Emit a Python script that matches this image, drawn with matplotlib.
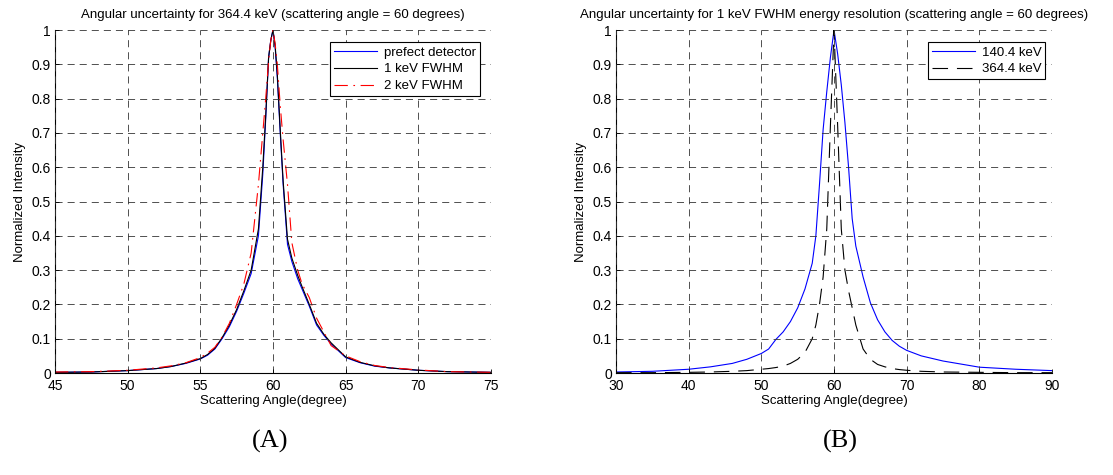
import matplotlib
matplotlib.use('Agg')
import matplotlib.pyplot as plt

# ---- data ----
# panel A: 364.4 keV, three detector resolutions
angle_a = [45, 47.5, 50, 52, 53, 54, 55, 55.5, 56, 56.5, 57, 57.5, 58, 58.5, 59,
           59.3, 59.5, 59.7, 59.85, 60, 60.15, 60.3, 60.5, 60.7, 61, 61.3, 61.7,
           62, 62.5, 63, 63.5, 64, 65, 66, 67, 68, 70, 72, 75]
perfect = [0.002, 0.003, 0.007, 0.013, 0.019, 0.028, 0.041, 0.052, 0.070, 0.100,
           0.135, 0.180, 0.233, 0.290, 0.400, 0.580, 0.740, 0.920, 0.970, 1.000,
           0.950, 0.860, 0.700, 0.550, 0.375, 0.325, 0.275, 0.245, 0.195, 0.140,
           0.110, 0.085, 0.045, 0.030, 0.020, 0.015, 0.008, 0.004, 0.002]
fwhm_1kev = [0.002, 0.003, 0.007, 0.013, 0.019, 0.029, 0.042, 0.054, 0.072, 0.103,
             0.140, 0.185, 0.240, 0.300, 0.420, 0.600, 0.750, 0.920, 0.970, 1.000,
             0.955, 0.870, 0.710, 0.560, 0.390, 0.335, 0.285, 0.252, 0.200, 0.145,
             0.113, 0.088, 0.047, 0.031, 0.021, 0.015, 0.008, 0.004, 0.002]
fwhm_2kev = [0.003, 0.004, 0.008, 0.015, 0.021, 0.030, 0.045, 0.058, 0.075, 0.105,
             0.145, 0.200, 0.260, 0.350, 0.550, 0.700, 0.800, 0.910, 0.970, 1.000,
             0.960, 0.900, 0.780, 0.680, 0.550, 0.380, 0.300, 0.260, 0.220, 0.160,
             0.120, 0.080, 0.050, 0.033, 0.022, 0.016, 0.009, 0.004, 0.002]

# panel B: 1 keV FWHM, two gamma energies
angle_b = [30, 35, 40, 43, 46, 48, 50, 51, 52, 53, 54, 55, 56, 57, 57.5, 58, 58.5,
           59, 59.5, 60, 60.5, 61, 61.5, 62, 62.5, 63, 64, 65, 66, 67, 68, 69, 70,
           72, 75, 80, 85, 90]
e_140 = [0.003, 0.005, 0.011, 0.018, 0.028, 0.040, 0.057, 0.070, 0.098, 0.120,
         0.150, 0.190, 0.245, 0.320, 0.400, 0.550, 0.710, 0.820, 0.920, 1.000,
         0.930, 0.840, 0.730, 0.600, 0.450, 0.370, 0.280, 0.205, 0.155, 0.120,
         0.095, 0.078, 0.066, 0.050, 0.035, 0.017, 0.011, 0.007]
e_364 = [0.001, 0.001, 0.002, 0.003, 0.005, 0.007, 0.011, 0.013, 0.016, 0.020,
         0.028, 0.040, 0.060, 0.100, 0.140, 0.200, 0.280, 0.420, 0.720, 1.000,
         0.720, 0.420, 0.300, 0.240, 0.190, 0.140, 0.070, 0.040, 0.025, 0.018,
         0.013, 0.010, 0.008, 0.005, 0.003, 0.002, 0.001, 0.001]

yticks = [i / 10 for i in range(11)]
ytick_labels = ['0', '0.1', '0.2', '0.3', '0.4', '0.5', '0.6', '0.7', '0.8', '0.9', '1']

plt.rcParams['font.family'] = ['Liberation Sans', 'DejaVu Sans']
plt.rcParams['font.size'] = 9.5

fig = plt.figure(figsize=(11.13, 4.75), dpi=100)
ax_a = fig.add_axes([0.0494, 0.2147, 0.3917, 0.7221])
ax_b = fig.add_axes([0.5535, 0.2147, 0.3917, 0.7221])


def style_axes(ax, xlim, xticks, title):
    ax.set_xlim(*xlim)
    ax.set_ylim(0, 1)
    ax.set_xticks(xticks)
    ax.set_yticks(yticks)
    ax.set_yticklabels(ytick_labels)
    ax.grid(True, color='#333333', linestyle=(0, (8.5, 6)), linewidth=0.6)
    ax.set_axisbelow(False)
    for side in ('top', 'right'):
        ax.spines[side].set_visible(False)
    for side in ('left', 'bottom'):
        ax.spines[side].set_linewidth(0.8)
    ax.tick_params(direction='in', length=3, width=0.6, labelsize=10)
    ax.tick_params(axis='x', pad=4)
    ax.tick_params(axis='y', pad=3)
    ax.set_title(title, fontsize=9.5, pad=9)
    ax.set_xlabel('Scattering Angle(degree)', fontsize=9.5, labelpad=2)
    ax.set_ylabel('Normalized Intensity', fontsize=9.5, labelpad=4)


legend_kw = dict(loc='upper right', fancybox=False, edgecolor='black', framealpha=1,
                 handlelength=3.3, borderpad=0.3, labelspacing=0.35,
                 handletextpad=0.5, fontsize=9.5)

# panel A
ax_a.plot(angle_a, perfect, color='blue', lw=0.8, label='prefect detector')
ax_a.plot(angle_a, fwhm_1kev, color='black', lw=0.8, label='1 keV FWHM')
ax_a.plot(angle_a, fwhm_2kev, color='red', lw=0.8,
          linestyle=(0, (12, 5, 1.5, 5)), label='2 keV FWHM')
style_axes(ax_a, (45, 75), [45, 50, 55, 60, 65, 70, 75],
           'Angular uncertainty for 364.4 keV (scattering angle = 60 degrees)')
leg = ax_a.legend(bbox_to_anchor=(0.99, 0.983), **legend_kw)
leg.get_frame().set_linewidth(0.8)

# panel B
ax_b.plot(angle_b, e_140, color='blue', lw=0.8, label='140.4 keV')
ax_b.plot(angle_b, e_364, color='black', lw=0.8,
          linestyle=(0, (14, 8)), label='364.4 keV')
style_axes(ax_b, (30, 90), [30, 40, 50, 60, 70, 80, 90],
           'Angular uncertainty for 1 keV FWHM energy resolution (scattering angle = 60 degrees)')
leg = ax_b.legend(bbox_to_anchor=(1.0, 0.983), **legend_kw)
leg.get_frame().set_linewidth(0.8)

# panel tags
fig.text(0.243, 0.07, '(A)', family='Liberation Serif', fontsize=19,
         ha='center', va='center')
fig.text(0.755, 0.07, '(B)', family='Liberation Serif', fontsize=19,
         ha='center', va='center')

fig.savefig('out.png', dpi=100)
plt.close(fig)
